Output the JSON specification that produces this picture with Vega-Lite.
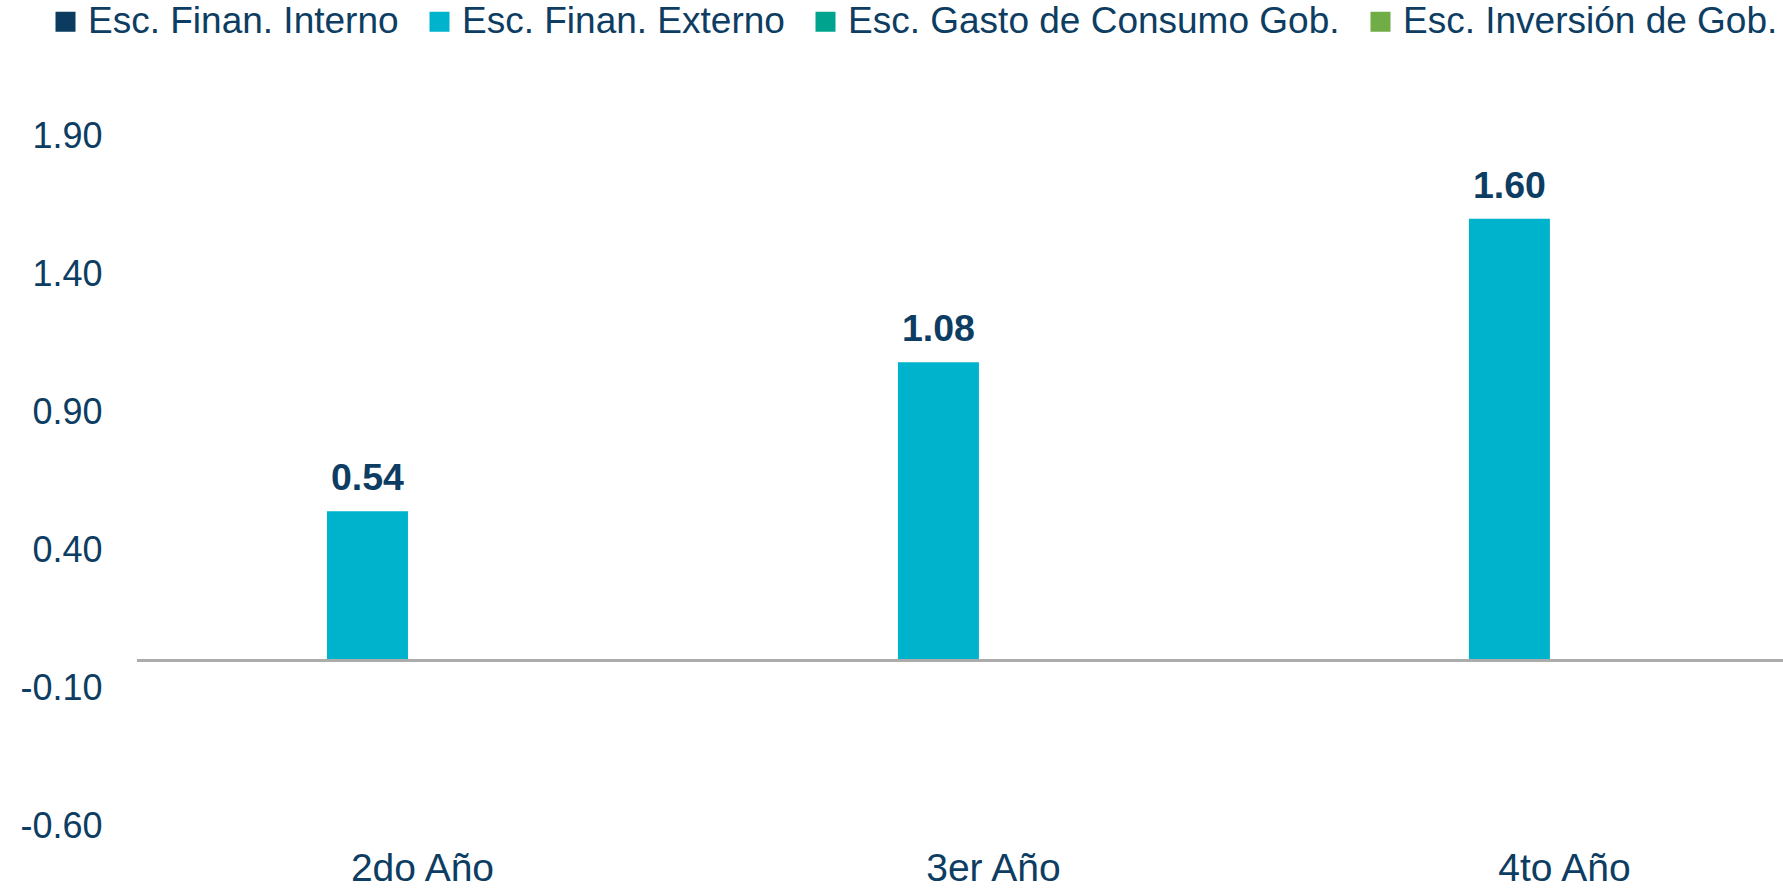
{
  "$schema": "https://vega.github.io/schema/vega-lite/v6.json",
  "autosize": "none",
  "padding": {"left": 137, "top": 136, "right": 0, "bottom": 62},
  "width": 1646,
  "height": 690,
  "background": "white",
  "config": {
    "view": {"stroke": null},
    "font": "Liberation Sans",
    "axis": {"labelFont": "Liberation Sans", "labelColor": "#0D3D62", "labelFontSize": 36}
  },
  "data": {
    "values": [
      {"anio": "2do Año", "serie": "Esc. Finan. Interno", "valor": 0},
      {"anio": "2do Año", "serie": "Esc. Finan. Externo", "valor": 0.54},
      {"anio": "2do Año", "serie": "Esc. Gasto de Consumo Gob.", "valor": 0},
      {"anio": "2do Año", "serie": "Esc. Inversión de Gob.", "valor": 0},
      {"anio": "3er Año", "serie": "Esc. Finan. Interno", "valor": 0},
      {"anio": "3er Año", "serie": "Esc. Finan. Externo", "valor": 1.08},
      {"anio": "3er Año", "serie": "Esc. Gasto de Consumo Gob.", "valor": 0},
      {"anio": "3er Año", "serie": "Esc. Inversión de Gob.", "valor": 0},
      {"anio": "4to Año", "serie": "Esc. Finan. Interno", "valor": 0},
      {"anio": "4to Año", "serie": "Esc. Finan. Externo", "valor": 1.60},
      {"anio": "4to Año", "serie": "Esc. Gasto de Consumo Gob.", "valor": 0},
      {"anio": "4to Año", "serie": "Esc. Inversión de Gob.", "valor": 0}
    ]
  },
  "encoding": {
    "x": {
      "field": "anio",
      "type": "nominal",
      "sort": ["2do Año", "3er Año", "4to Año"],
      "scale": {"paddingInner": 0.28, "paddingOuter": 0.0814, "align": 0.86},
      "axis": {
        "title": null,
        "orient": "bottom",
        "domain": false,
        "ticks": false,
        "tickSize": 0,
        "labelAngle": 0,
        "labelBaseline": "alphabetic",
        "labelPadding": 54,
        "labelFontSize": 39
      }
    },
    "y": {
      "field": "valor",
      "type": "quantitative",
      "scale": {"domain": [-0.6, 1.9], "nice": false, "zero": false},
      "axis": {
        "title": null,
        "grid": false,
        "domain": false,
        "ticks": false,
        "tickSize": 0,
        "values": [-0.6, -0.1, 0.4, 0.9, 1.4, 1.9],
        "labelExpr": "replace(format(datum.value, '.2f'), '\u2212', '-')",
        "labelPadding": 35,
        "labelFontSize": 36
      }
    }
  },
  "layer": [
    {
      "mark": {"type": "bar"},
      "encoding": {
        "xOffset": {
          "field": "serie",
          "type": "nominal",
          "scale": {
            "domain": ["Esc. Finan. Interno", "Esc. Finan. Externo", "Esc. Gasto de Consumo Gob.", "Esc. Inversión de Gob."],
            "paddingInner": 0.264,
            "paddingOuter": 0
          }
        },
        "color": {
          "field": "serie",
          "type": "nominal",
          "scale": {
            "domain": ["Esc. Finan. Interno", "Esc. Finan. Externo", "Esc. Gasto de Consumo Gob.", "Esc. Inversión de Gob."],
            "range": ["#0B3B5E", "#00B3CD", "#00A48E", "#71AD47"]
          },
          "legend": {
            "title": null,
            "orient": "none",
            "legendX": -90,
            "legendY": -133,
            "direction": "horizontal",
            "symbolType": "square",
            "symbolSize": 400,
            "symbolStrokeWidth": 0,
            "labelFontSize": 37,
            "labelFont": "Liberation Sans",
            "labelColor": "#0D3D62",
            "labelOffset": 4,
            "labelLimit": 0,
            "columnPadding": 22,
            "padding": 0
          }
        }
      }
    },
    {
      "mark": {"type": "rule", "color": "#ABABAB", "strokeWidth": 1.6},
      "encoding": {"y": {"datum": 0}, "x": null}
    },
    {
      "transform": [{"filter": "datum.serie === 'Esc. Finan. Externo'"}],
      "mark": {
        "type": "text",
        "font": "Liberation Sans",
        "fontWeight": "bold",
        "fontSize": 37.5,
        "color": "#0D3D62",
        "baseline": "alphabetic",
        "dy": -21
      },
      "encoding": {
        "xOffset": {
          "field": "serie",
          "type": "nominal",
          "scale": {
            "domain": ["Esc. Finan. Interno", "Esc. Finan. Externo", "Esc. Gasto de Consumo Gob.", "Esc. Inversión de Gob."],
            "paddingInner": 0.264,
            "paddingOuter": 0
          }
        },
        "text": {"field": "valor", "type": "quantitative", "format": ".2f"}
      }
    }
  ]
}
